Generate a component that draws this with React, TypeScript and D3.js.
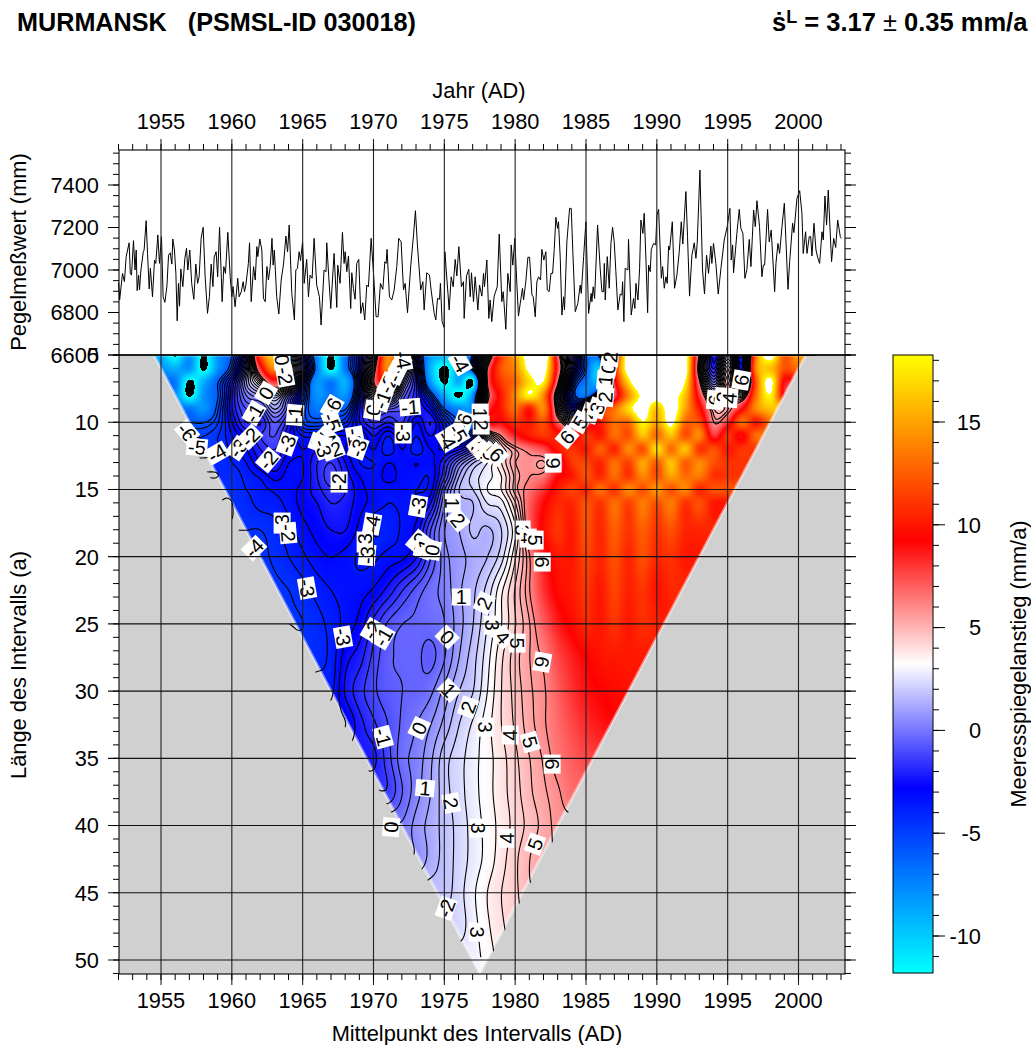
import React, { useMemo } from "react";
import * as d3 from "d3";

const FONT = "'Liberation Sans', Arial, Helvetica, sans-serif";

// Tide gauge record: turning points, month index counted from January 1952, and value in mm
const gaugeMonths = [0,1,3.4,5,6.5,9,10,11,12.7,14,15,15.8,17,17.8,19,21,21.7,23.4,24.6,26,27,28.8,30.5,31.6,33.3,34.7,36.4,37.8,39.3,41,42.4,43.8,45.2,46,47.4,48.6,49.7,50.8,51.7,52.8,54.5,56.2,57.6,58.7,60.4,62,63.8,65.5,67,68.3,70,71.7,73.4,75.4,77,78.5,80,81,82.7,84,85.6,87.8,89.2,90.6,92.6,94.6,96,97,98.8,101,102.2,104,105.6,106.7,107.9,110,111,112.4,114.4,115.8,117.2,118,119.7,121.4,122.8,124.3,125.7,127,128.5,130,131,132,134,135.8,137.8,139.8,141.8,143.2,144.6,146.8,149,150.2,151.6,153,154.2,155.9,157.3,
159.4,160.9,162.3,164,165.7,167.9,170.2,171.6,174.1,175.8,176.4,178.1,179.8,182.6,184.9,185.7,187.7,189.7,191.1,192,193.4,194.8,196.7,197.6,199,200.4,201.8,203.5,205.2,206.9,208.6,210.3,211.7,214,216.2,218.2,219.9,221.9,223.9,225.6,226.7,227.5,229.5,231.5,233.5,235.7,237.4,239.4,241.4,242.8,244.8,247.6,249.9,251.5,253.2,256,257.8,258.9,261.1,263.4,264.8,267.4,268.8,270.2,271.9,272.7,274.1,275.8,276.5,277.5,280.1,281.8,283.5,285.2,286.6,288.3,290.5,292.2,292.8,294.8,296.7,297.9,299,300.7,302.1,304.4,305.8,307.8,309.2,310,312,313.7,
314.8,316.2,318.2,320.8,322.5,324.7,325.9,328.1,329.8,331.8,332.6,334,335.7,337.4,338.8,340.3,342.2,343.1,345,346.8,348.2,350.2,351.3,353,354.4,355.8,357.5,358.6,360.3,362,363.2,364.8,366.3,367.7,369.1,370.5,371.9,372.7,374.2,375.6,377,377.8,379.8,382.1,383.5,384.9,386.9,389.1,391.1,392,394,395.9,398.2,400.4,401,402.1,403.3,405.8,408.1,409.5,410.9,411.5,412.3,414,415.7,417.1,418.5,419.9,421.3,423,425,426.4,427,428.1,429.2,431.5,432,434.3,436.3,437.4,438.3,440,441.4,442.5,444.2,445.3,446.8,448.2,449,450.4,451.3,453.3,455,456.1,457.5,459.8,460.9,462.3,463.7,464.8,466,466.8,469.1,471,
473,475,476.7,478,480.6,482,483.7,485.7,487.7,489.1,490.2,492.5,494.7,496.4,498.1,499.8,501.8,502.6,504,506,508,510.3,513.1,515.6,517.9,519,520.2,521,523.8,525.8,527.2,528.9,530.6,532.3,534.3,535.7,538,539.4,540.8,543,545,546.2,547.3,549.8,551.2,552.9,555.8,556.9,558.6,560,562,564,567.1,568.5,571,572.1,574.7,577,578.9,580,582,583.2,585.1,586.3,587.4,589.1,590.8,592.2,593.9,595.9,597,598.4,599.8,601.2,604,605.8,607.5,609.2,611.4,612.3];
const gaugeValues = [6940,6860,6984,6945,7063,7128,6984,6976,7138,7000,7094,6903,6976,6906,7000,7086,7094,7232,7078,6911,7008,6874,7047,7031,7165,7031,7157,6874,6848,6922,7070,7081,7028,7146,7094,6984,6761,6937,6830,7005,6922,7055,7102,7000,7094,6937,6862,7028,6937,6968,7149,7201,6968,6796,6874,7028,6922,7060,7086,6968,7201,6851,7016,6984,7177,6968,6874,6922,6827,6961,6874,6898,6945,6898,6929,7031,7128,6851,7016,6953,7110,7063,7146,7094,6866,6851,7016,6953,7016,7149,7023,7094,6874,6793,6953,7028,7160,7086,7212,6890,6765,7000,7008,7086,7044,7133,6937,
7050,6874,6976,6961,7149,6929,6874,6741,7000,6992,7128,6968,6819,7078,6824,7023,6937,7177,7031,7086,6992,7066,6819,6987,6913,6862,7031,7050,6796,6846,6765,6929,6921,7149,6968,6780,6780,6937,6909,7039,7031,7097,6874,6859,6906,7016,7149,7133,6906,6937,6799,7023,7165,7279,7118,6906,6945,6812,6987,6976,6906,6796,6765,6866,6862,6937,6757,6730,7086,7008,6812,6968,6921,7050,6972,7110,6921,6945,6772,6972,7003,6874,6987,6851,6968,6812,6929,6877,6984,6921,7047,6772,
6859,6757,6877,6921,7169,6851,6898,6721,6984,6898,7118,7023,7149,6937,6783,6843,6914,6859,6945,7060,7060,6882,6874,6780,6945,6968,6953,7097,7047,7086,6906,6898,6984,6984,7097,7248,7196,7227,7055,6788,6874,6812,7133,7290,7290,7078,6804,6843,6929,6890,7063,7227,6796,6890,6851,6921,6866,7212,7000,6898,6898,7031,6859,7063,6914,7125,7201,7133,6992,6812,6887,6882,6945,6757,7008,7000,7144,6788,6866,6819,6937,6859,7008,7235,7172,7267,7047,6799,7023,6992,7097,7125,7118,7259,7285,6961,7016,6914,6968,6937,7113,7094,7227,6914,
6976,7086,7227,7122,7369,7157,6877,7070,7128,7055,7125,7470,7000,6887,7070,6984,7113,7031,7125,7031,6887,7008,7141,7204,7290,7047,7118,6987,7172,7285,7196,7172,6961,7003,7144,7016,7282,7204,7326,7204,6968,7023,7023,7285,7133,7188,6898,7031,7125,7078,7204,7314,6909,7039,7220,7176,7337,7373,7267,7078,7180,7078,7157,7157,7066,7220,7094,7060,7031,7180,7141,7348,7212,7376,7039,7149,7106,7235,7157,7149];

// Linear rate (mm/a) by interval length and first midpoint year, one array per interval length
const rateLengths = [5,6,7,8,9,10,11,12,13,14,15,16,18,20,22.5,25,27.5,30,32.5,35,37.5,40,42.5,45,47.5,50];
const rateStarts = [1955,1955,1956,1956,1957,1957,1958,1958,1959,1959,1960,1960,1961,1962,1963,1965,1966,1967,1968,1970,1971,1972,1973,1975,1976,1977];
const rateL05 = [-9,-12.2,-8,-12.2,-8,-6,-1,12,16,5,-2,-7.5,-12.2,-7,-3,3,14,9,-3,-8,-9,-12.2,-5,3,11,15,20,22,7,0,-6,-5,8,20,22,24,24,20,5,-3,2,-4,13,20,12,15,12];
const rateL06 = [-8,-9,-8,-12.2,-8,-5,0,8,14,6,-1,-7,-12.2,-7,-3,5,14,5,-2,-9,-12.2,-9,-5,6,12,14,19,20,8,-1,-6,-9,9,20,22,22,24,20,4,-2,4,-3,14,16,12,13];
const rateL07 = [-7,-12.2,-9,-6,-3,1,4,8,5,-3,-8,-7,-9,-3,6,10,2,-2,-8,-12.2,-9,-12.2,6,11,13,17,18,6,-4,-7,-8,8,17,22,22,23,18,6,0,5,-2,12,19,9,10];
const rateL08 = [-7.5,-12.2,-8,-6,-2.5,0,1,3,0,-4,-8,-7,-8,-3,3,4,0,-2,-5,-9,-12.2,-8,5,10,14,18,14,3,-5,-7,-2,7,14,19,20,20,16,8,3,6,4,13,18,9];
const rateL09 = [-7,-8,-5.5,-2.5,-1,-1,1,-1,-5,-7,-6,-6,-2.5,0,-0.5,-1,-2,-3,-6,-7.5,-7,7,10,13,10,14,4,-2,2,10,13,17,20,16,20,15,10,5,5.5,9,14,16];
const rateL10 = [-6,-6,-5,-3,-1.5,-2,-0.5,-2,-5,-5.5,-5,-4.5,-2.5,-1.5,-2,-1.5,-3,-2,-4,-6,-7,8,9,11,10,12,7,4,7,10,13,13,18,15,19,13,12,6,8,13,10,13];
const rateL11 = [-5,-4.5,-3.5,-2.5,-1.5,-1,-2.5,-3.5,-3.5,-3,-3,-3.5,-2.5,-3.5,-2.5,-3.5,-2.5,-3.5,-5,-4,3,6,8.5,10,11,10,8,11,10,13,12,16,13,16,12,14,8,11,9,13];
const rateL12 = [-5,-4.5,-3.8,-3,-2,-1.5,-2.5,-3,-2.5,-2,-3,-3.5,-3,-3.8,-3,-3.8,-3,-3,-2.5,-1,1,4,5.5,6.5,7.5,10,11,10,12.5,10.5,14,12,17,13,16,11,12,10,11];
const rateL13 = [-4.2,-4,-3.5,-2.5,-2,-3,-3,-2,-1.5,-2.5,-3.5,-3.5,-3,-3.2,-3,-3.2,-2,0,1.5,2.5,4,5.5,5.8,5.4,7.5,11,11.5,10.5,13,11.5,15,12.5,16,12.5,14,12,11];
const rateL14 = [-4,-4.3,-3.8,-3.4,-2.8,-3.2,-3,-2,-1.2,-2.2,-3,-3.3,-2.8,-3.2,-3.3,-3.4,-1.5,1,2.2,2.8,3.5,5.2,6,6.5,9,10,12,10.5,13,11,14,12,15,13,13.5,11];
const rateL15 = [-4.4,-4,-3.7,-3.4,-3.2,-2.8,-2.2,-1.6,-2,-2.8,-3.2,-3.3,-3.2,-3.5,-3.2,-0.5,1.5,2,3,3.5,5.3,6.5,8,10,11.5,10.5,13,11,14,12,14.5,12,14,10.5,12];
const rateL16 = [-4.5,-4.2,-3.8,-3.7,-3.3,-2.8,-2.5,-2,-2.2,-2.8,-3.2,-3.5,-3.4,-3.4,-2.5,0,1.2,1.5,2.5,2.8,4.5,7,9,10.5,10.5,12,11,13,11.5,13.5,12,13.5,11,12,10];
const rateL18 = [-4.5,-4.5,-4.2,-3.7,-3.2,-2.8,-2.5,-2.5,-3.2,-4,-3.8,-3.4,-2.8,-1,0.5,1,1.6,1.4,2,3.5,7,9.5,11,10,12,10.5,12.5,11,12.5,11,12,10.5,10.5];
const rateL20 = [-4.6,-4.4,-4,-3.6,-3.2,-3,-3.2,-3.6,-3.6,-3.3,-3.1,-2.5,-1,0.3,0.8,1.2,1.5,2.3,4,6,8.5,10,10,11.5,10.5,12,10.5,12,10.5,11,10];
const rateL22 = [-4.6,-4.5,-4.2,-3.8,-3.5,-3.3,-3.2,-2.9,-2.3,-1.5,-0.8,-0.2,0.2,0.9,1.4,2.2,3.4,4.6,6,8,9.5,10,11,10,11.5,10.3,11,9.8,10.5];
const rateL25 = [-4.5,-4.2,-3.8,-3.3,-2.8,-1.8,-0.9,-0.5,-0.4,-0.3,0,0.8,1.5,2.5,3.5,4.5,5.5,7,8.5,9.5,10.5,10,11,10,10.8,10.3,10];
const rateL27 = [-4.2,-3.8,-2.7,-2.2,-1.3,-0.6,-0.45,-0.4,-0.65,0,1,1.8,2.8,3.9,4.8,5.5,6.2,7.5,8.5,9.2,9.8,10,10,10];
const rateL30 = [-3.6,-2.4,-1.7,-1.1,-0.7,-0.5,-0.4,-0.1,0.7,1.5,2,3,4,4.7,5.4,5.9,7,8,8.8,9.2,9.5,9.7];
const rateL32 = [-3,-2.2,-1.6,-1,-0.4,0,0.5,1.2,2,2.6,3.3,4,4.6,5.3,5.9,6.7,7.5,8.2,8.7,9];
const rateL35 = [-2.1,-1.2,-0.2,0.2,0.9,1.8,2.3,2.8,3.3,3.8,4.4,5,5.6,6.4,7,7.5,7.7];
const rateL37 = [-1.4,-0.5,0.3,1,1.8,2.3,2.8,3.3,3.8,4.3,4.9,5.4,5.9,6.6];
const rateL40 = [0.1,0.7,1.2,1.7,2.2,2.7,3.2,3.7,4.2,4.7,5.2,5.7];
const rateL42 = [0.6,1.2,1.7,2.2,2.7,3.2,3.8,4.4,5,5.4];
const rateL45 = [1.8,2.3,2.9,3.5,4,4.4,4.9];
const rateL47 = [2.3,2.8,3.4,3.9,4.3];
const rateL50 = [2.8,3.2,3.7];
const rateRows = [rateL05,rateL06,rateL07,rateL08,rateL09,rateL10,rateL11,rateL12,rateL13,rateL14,rateL15,rateL16,rateL18,rateL20,rateL22,rateL25,rateL27,rateL30,rateL32,rateL35,rateL37,rateL40,rateL42,rateL45,rateL47,rateL50];

// Contour labels: midpoint year, interval length, text, rotation
const labelYears = [1956.84,1957.54,1958.95,1960.44,1961.29,1961.57,1962.42,1963.55,1963.76,1964.46,1963.9,1962.56,1967.08,1967.08,1966.72,1966.23,1967.15,1966.44,1968.7,1968.91,1969.97,1970.61,1971.03,1971.6,1971.88,1972.09,1972.58,1972.09,1967.57,1973.15,1963.55,1963.97,1969.9,1969.41,1969.55,1973.15,1973.57,1974.14,1961.57,1965.31,1976.19,1977.81,1978.38,1967.85,1969.9,1970.68,1975.2,1979.15,1975.55,1975.97,1976.12,1977.53,1977.6,1976.33,1975.97,1975.2,1977.4,1977.8,1978.2,1978.7,1983.67,1984.59,1985.3,1985.79,1986.36,1986.36,1986.57,1986.71,1982.68,1980.49,1980.92,1981.41,1981.91,1995.96,1994.12,1994.69,1995.11,1981.91,1980.14,1975.34,1976.68,1977.88,1979.65,1981.06,1982.61,1970.68,1973.22,1973.64,1975.48,1971.24,1977.39,1979.44,1981.41,1975.13,1977.32];
const labelLengths = [10.73,11.85,12.29,11.92,11.1,9.32,7.83,5.37,6.56,9.46,11.62,12.81,8.87,9.99,11.1,11.55,12.07,11.92,11.1,11.92,9.09,8.35,7.16,6.34,5.74,5.37,8.87,10.8,14.45,16.24,17.5,18.24,17.57,18.91,19.88,18.91,19.36,19.51,19.36,22.34,23,23.45,25.09,25.98,25.46,25.98,25.98,25.98,16.01,17.28,5.6,9.32,10.21,10,10.8,11.32,11.9,12.2,12.3,12.4,11.1,9.99,9.32,8.94,8.13,6.86,5.97,5.15,13.04,18.02,18.62,18.77,20.4,6.86,8.35,8.13,8.2,27.84,26.43,29.93,31.19,32.68,33.27,33.79,35.43,33.42,32.75,37.22,38.33,40.12,40.19,40.94,41.38,46.15,47.93];
const labelTexts = ["-6","-5","-4","-3","-2","-1","0","0","-2","-1","-3","-2","-6","-5","-4","-3","-2","-3","-1","-3","0","-1","-2","-3","-3","-4","-1","-3","-2","-3","-3","-2","-4","-3","-3","-2","-1","0","-4","-3","1","2","3","-3","-2","-1","0","4","1","2","-4","1","2","-6","-5","-4","3","4","5","6","6","5","4","3","2","1","0","2","6","3","4","5","6","6","6","3","4","6","5","1","2","3","4","5","6","-1","0","1","2","0","3","4","5","-2","3"];
const labelAngles = [50,5,-30,-55,-45,-60,-60,85,80,-85,-70,-50,-60,70,45,20,-20,70,80,-70,-80,-70,-65,-65,-60,80,-5,90,-90,-80,-90,85,-80,-90,-85,-50,-70,-80,-45,80,0,-65,90,80,-60,-60,45,50,90,50,60,90,90,-70,60,60,50,45,45,45,-50,-60,-70,-70,-85,-85,-80,-85,-90,90,90,90,90,-80,-85,-85,-85,100,90,45,-70,90,-90,75,90,75,-65,5,80,-85,90,-90,-70,-70,90];

// Axis tick labels
const yearTicks = [1955,1960,1965,1970,1975,1980,1985,1990,1995,2000];
const gaugeTicks = [6600,6800,7000,7200,7400];
const lengthTicks = [5,10,15,20,25,30,35,40,45,50];
const rateTicks = [-10,-5,0,5,10,15];
const colorValues = [-11.8,-2.8,3.2,9.2,18.2];
const colorNames = ["#00ffff","#0000ff","#ffffff","#ff0000","#ffff00"];
const contourMin = -6, contourMax = 6, contourStep = 0.5;

const x = d3.scaleLinear().domain([1955, 2000]).range([161, 798.5]);
const yG = d3.scaleLinear().domain([6600, 7400]).range([355, 185]);
const yL = d3.scaleLinear().domain([5, 50]).range([355, 960]);
const yC = d3.scaleLinear().domain([-10, 15]).range([936, 422]);
const color = d3.scaleLinear<string>().domain(colorValues).range(colorNames).interpolate(d3.interpolateRgb);

const L = 119, R = 845, T = 150, M = 355, B = 974;
const BL = 893, BR = 933;

function catmull(a: number[], t: number) {
  const n = a.length;
  const i = Math.max(0, Math.min(n - 2, Math.floor(t)));
  const f = Math.max(0, Math.min(1, t - i));
  const p0 = a[Math.max(0, i - 1)], p1 = a[i], p2 = a[i + 1], p3 = a[Math.min(n - 1, i + 2)];
  return 0.5 * (2 * p1 + (p2 - p0) * f + (2 * p0 - 5 * p1 + 4 * p2 - p3) * f * f + (3 * p1 - p0 - 3 * p2 + p3) * f * f * f);
}

function buildField(w: number, h: number) {
  const first = 1955, count = 50;
  const filled = rateRows.map((r, k) => {
    const off = rateStarts[k] - first;
    return d3.range(count).map(i => (i < off ? r[0] : i - off >= r.length ? r[r.length - 1] : r[i - off]));
  });
  const fine = filled.map(row => {
    const out = new Float64Array(w);
    for (let i = 0; i < w; i++) out[i] = catmull(row, x.invert(L + i + 0.5) - first);
    return out;
  });
  const field = new Float64Array(w * h);
  const n = rateLengths.length;
  for (let j = 0; j < h; j++) {
    const len = Math.min(rateLengths[n - 1], yL.invert(M + j + 0.5));
    let k = d3.bisectRight(rateLengths, len) - 1;
    k = Math.max(0, Math.min(n - 2, k));
    const h0 = rateLengths[k + 1] - rateLengths[k];
    const f = (len - rateLengths[k]) / h0;
    const a = Math.max(0, k - 1), d = Math.min(n - 1, k + 2);
    const s1 = (rateLengths[k + 1] - rateLengths[a]) || 1, s2 = (rateLengths[d] - rateLengths[k]) || 1;
    const f2 = f * f, f3 = f2 * f;
    const c0 = 2 * f3 - 3 * f2 + 1, c1 = f3 - 2 * f2 + f, c2 = -2 * f3 + 3 * f2, c3 = f3 - f2;
    for (let i = 0; i < w; i++) {
      const m0 = ((fine[k + 1][i] - fine[a][i]) / s1) * h0;
      const m1 = ((fine[d][i] - fine[k][i]) / s2) * h0;
      field[j * w + i] = c0 * fine[k][i] + c1 * m0 + c2 * fine[k + 1][i] + c3 * m1;
    }
  }
  return field;
}

function useRaster() {
  return useMemo(() => {
    const w = R - L, h = B - M;
    const field = buildField(w, h);
    const canvas = document.createElement("canvas");
    canvas.width = w; canvas.height = h;
    const ctx = canvas.getContext("2d")!;
    const img = ctx.createImageData(w, h);
    const lo = colorValues[0], hi = colorValues[colorValues.length - 1];
    for (let p = 0; p < w * h; p++) {
      const v = field[p];
      let r = 0, g = 0, b = 0;
      if (v > hi) { r = g = b = 255; }
      else if (v >= lo) { const c = d3.rgb(color(v)); r = c.r; g = c.g; b = c.b; }
      img.data[p * 4] = r; img.data[p * 4 + 1] = g; img.data[p * 4 + 2] = b; img.data[p * 4 + 3] = 255;
    }
    ctx.putImageData(img, 0, 0);
    const step = 2;
    const w2 = Math.floor(w / step), h2 = Math.floor(h / step);
    const coarse = new Float64Array(w2 * h2);
    for (let j = 0; j < h2; j++) for (let i = 0; i < w2; i++) coarse[j * w2 + i] = field[j * step * w + i * step];
    const levels = d3.range(contourMin, contourMax + 0.01, contourStep);
    const polys = d3.contours().size([w2, h2]).thresholds(levels)(coarse as any);
    const path = d3.geoPath(d3.geoTransform({
      point(px: number, py: number) { (this as any).stream.point(L + px * step, M + py * step); },
    }));
    return { href: canvas.toDataURL("image/png"), lines: polys.map(p => path(p as any) || "") };
  }, []);
}

function triangle(pad: number, lastLength: number) {
  const half = (2003 - 1952 - lastLength) / 2;
  const a = [x(1952 + 2.5 - pad), M];
  const b = [x(2003 - 2.5 + pad), M];
  const c = [x(1977.5 + half + pad * 0.2), yL(lastLength)];
  const e = [x(1977.5 - half - pad * 0.2), yL(lastLength)];
  return [a, b, c, e].map(p => p.join(",")).join(" ");
}

const gaugeLine = d3.line<number>()
  .x((_, i) => x(1952 + gaugeMonths[i] / 12))
  .y(d => yG(d));

export default function App() {
  const { href, lines } = useRaster();
  const yearMinor = d3.range(1952, 2004);
  const gaugeMinor = d3.range(6600, 7551, 50);
  const lengthMinor = d3.range(5, 52);
  const rateMinor = d3.range(-11, 19);
  const base = { fontFamily: FONT, fill: "#000" };
  const fs = 21.8;
  return (
    <svg width={1031} height={1045} style={{ position: "absolute", left: 0, top: 0, background: "#fff" }}>
      <defs>
        <clipPath id="tri"><polygon points={triangle(0, 51)} /></clipPath>
        <clipPath id="triWide"><polygon points={triangle(0.7, 49.8)} /></clipPath>
        <linearGradient id="cbar" x1="0" y1="1" x2="0" y2="0">
          {colorValues.map((v, i) => (
            <stop key={v} offset={(v - colorValues[0]) / (colorValues[4] - colorValues[0])} stopColor={colorNames[i]} />
          ))}
        </linearGradient>
      </defs>

      <text x={17} y={31} {...base} fontSize={25} fontWeight="bold" textLength={399} lengthAdjust="spacingAndGlyphs" xmlSpace="preserve">MURMANSK   (PSMSL-ID 030018)</text>
      <text x={772} y={31} {...base} fontSize={25.5} fontWeight="bold" xmlSpace="preserve">
        ṡ<tspan dy={-8} fontSize={18}>L</tspan><tspan dy={8}> = 3.17 </tspan><tspan fontWeight="normal">±</tspan><tspan> 0.35 mm/a</tspan>
      </text>

      <text x={479} y={98} {...base} fontSize={fs} textAnchor="middle">Jahr (AD)</text>
      <text x={477} y={1041} {...base} fontSize={fs} textAnchor="middle">Mittelpunkt des Intervalls (AD)</text>
      <text transform="translate(26,252) rotate(-90)" {...base} fontSize={fs} textAnchor="middle">Pegelmeßwert (mm)</text>
      <text transform="translate(26,665) rotate(-90)" {...base} fontSize={fs} textAnchor="middle">Länge des Intervalls (a)</text>
      <text transform="translate(1026,664) rotate(-90)" {...base} fontSize={fs} textAnchor="middle">Meeresspiegelanstieg (mm/a)</text>

      <rect x={L} y={M} width={R - L} height={B - M} fill="#d0d0d0" />
      <image href={href} x={L} y={M} width={R - L} height={B - M} clipPath="url(#tri)" preserveAspectRatio="none" />
      <polygon points={triangle(0, 51)} fill="none" stroke="#fff" strokeOpacity={0.45} strokeWidth={3} />
      <g clipPath="url(#triWide)">
        {lines.map((d, i) => <path key={i} d={d} fill="none" stroke="#000" strokeWidth={1.1} />)}
      </g>
      {labelTexts.map((t, i) => {
        const w = t.length * 9 + (t.length > 1 ? -1 : 6);
        return (
          <g key={i} transform={`translate(${x(labelYears[i])},${yL(labelLengths[i])}) rotate(${labelAngles[i]})`}>
            <rect x={-w / 2 - 2} y={-8.5} width={w + 4} height={17} fill="#fff" />
            <text {...base} fontSize={20} textAnchor="middle" dy="0.36em">{t}</text>
          </g>
        );
      })}

      <path d={gaugeLine(gaugeValues) || ""} fill="none" stroke="#000" strokeWidth={1} strokeLinejoin="round" />

      {/* grid and axes */}
      {yearTicks.map(t => <line key={t} x1={x(t)} x2={x(t)} y1={T - 11} y2={B + 11} stroke="#222" strokeWidth={1.1} />)}
      {lengthTicks.map(t => <line key={t} x1={L - 11} x2={R + 11} y1={yL(t)} y2={yL(t)} stroke="#111" strokeWidth={1.1} />)}
      {gaugeTicks.map(t => (
        <g key={t}>
          <line x1={L - 11} x2={L} y1={yG(t)} y2={yG(t)} stroke="#000" />
          <line x1={R} x2={R + 11} y1={yG(t)} y2={yG(t)} stroke="#000" />
        </g>
      ))}
      {yearMinor.map(t => (
        <g key={t}>
          <line x1={x(t)} x2={x(t)} y1={T - 6} y2={T} stroke="#000" />
          <line x1={x(t)} x2={x(t)} y1={B} y2={B + 6} stroke="#000" />
        </g>
      ))}
      {gaugeMinor.map(t => (
        <g key={t}>
          <line x1={L - 6} x2={L} y1={yG(t)} y2={yG(t)} stroke="#000" />
          <line x1={R} x2={R + 6} y1={yG(t)} y2={yG(t)} stroke="#000" />
        </g>
      ))}
      {lengthMinor.map(t => (
        <g key={t}>
          <line x1={L - 6} x2={L} y1={yL(t)} y2={yL(t)} stroke="#000" />
          <line x1={R} x2={R + 6} y1={yL(t)} y2={yL(t)} stroke="#000" />
        </g>
      ))}
      <rect x={L} y={T} width={R - L} height={B - T} fill="none" stroke="#000" strokeWidth={1.1} />
      <line x1={L} x2={R} y1={M} y2={M} stroke="#000" strokeWidth={1.4} />

      {yearTicks.map(t => (
        <g key={t}>
          <text x={x(t)} y={T - 21} {...base} fontSize={fs} textAnchor="middle">{t}</text>
          <text x={x(t)} y={B + 34} {...base} fontSize={fs} textAnchor="middle">{t}</text>
        </g>
      ))}
      {gaugeTicks.map(t => <text key={t} x={99} y={yG(t)} dy="0.36em" {...base} fontSize={fs} textAnchor="end">{t}</text>)}
      {lengthTicks.map(t => <text key={t} x={99} y={yL(t)} dy="0.36em" {...base} fontSize={fs} textAnchor="end">{t}</text>)}

      <rect x={BL} y={M} width={BR - BL} height={B - 1 - M} fill="url(#cbar)" stroke="#000" strokeWidth={1} />
      {rateMinor.map(t => <line key={t} x1={BR} x2={BR + 6} y1={yC(t)} y2={yC(t)} stroke="#000" />)}
      {rateTicks.map(t => (
        <g key={t}>
          <line x1={BR} x2={BR + 12} y1={yC(t)} y2={yC(t)} stroke="#000" />
          <text x={981} y={yC(t)} dy="0.36em" {...base} fontSize={fs} textAnchor="end">{t}</text>
        </g>
      ))}
    </svg>
  );
}
